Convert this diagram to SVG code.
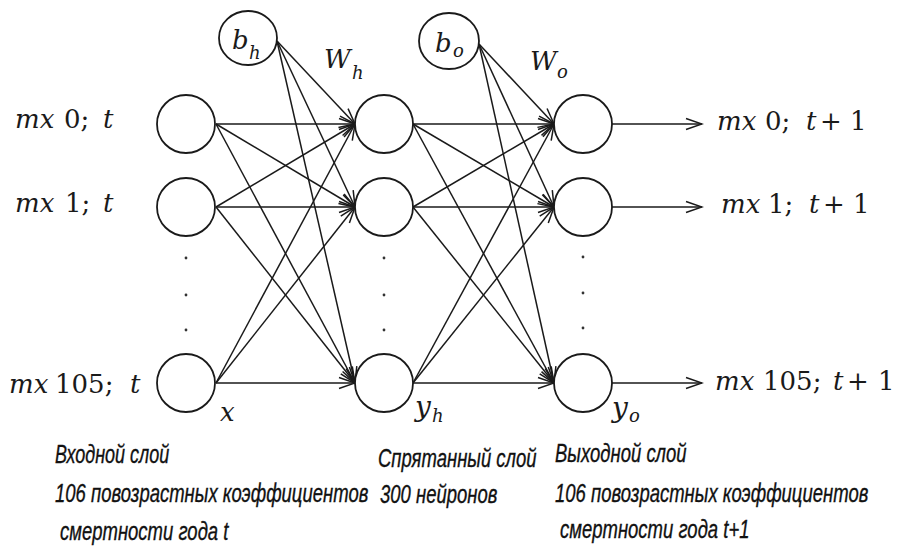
<svg xmlns="http://www.w3.org/2000/svg" width="897" height="551" viewBox="0 0 897 551">
<defs>
<marker id="arr" markerUnits="userSpaceOnUse" markerWidth="20" markerHeight="14" refX="18" refY="7" orient="auto">
<path d="M2,1.5 L18,7 L2,12.5" fill="none" stroke="#1a1a1a" stroke-width="1.5"/>
</marker>
</defs>
<style>
.node{fill:#fff;stroke:#1a1a1a;stroke-width:1.8}
.edge{stroke:#1a1a1a;stroke-width:1.5;fill:none}
.m{font-family:"DejaVu Serif","Liberation Serif",serif;font-size:26px;fill:#1a1a1a}
.i{font-style:italic}
.sub{font-family:"DejaVu Serif","Liberation Serif",serif;font-style:italic;font-size:18px;fill:#1a1a1a}
.cap{font-family:"Liberation Sans",sans-serif;font-style:italic;font-size:25px;fill:#111;stroke:#111;stroke-width:0.35}
.dot{fill:#333}
</style>
<rect width="897" height="551" fill="#fff"/>
<g id="connectors">
<line class="edge" x1="216" y1="124" x2="355" y2="124" marker-end="url(#arr)"/>
<line class="edge" x1="216" y1="124" x2="355" y2="207" marker-end="url(#arr)"/>
<line class="edge" x1="216" y1="124" x2="355" y2="383" marker-end="url(#arr)"/>
<line class="edge" x1="216" y1="207" x2="355" y2="124" marker-end="url(#arr)"/>
<line class="edge" x1="216" y1="207" x2="355" y2="207" marker-end="url(#arr)"/>
<line class="edge" x1="216" y1="207" x2="355" y2="383" marker-end="url(#arr)"/>
<line class="edge" x1="216" y1="383" x2="355" y2="124" marker-end="url(#arr)"/>
<line class="edge" x1="216" y1="383" x2="355" y2="207" marker-end="url(#arr)"/>
<line class="edge" x1="216" y1="383" x2="355" y2="383" marker-end="url(#arr)"/>
<line class="edge" x1="277" y1="41" x2="355" y2="124" marker-end="url(#arr)"/>
<line class="edge" x1="277" y1="41" x2="355" y2="207" marker-end="url(#arr)"/>
<line class="edge" x1="277" y1="41" x2="355" y2="383" marker-end="url(#arr)"/>
<line class="edge" x1="413" y1="124" x2="554" y2="124" marker-end="url(#arr)"/>
<line class="edge" x1="413" y1="124" x2="554" y2="207" marker-end="url(#arr)"/>
<line class="edge" x1="413" y1="124" x2="554" y2="383" marker-end="url(#arr)"/>
<line class="edge" x1="413" y1="207" x2="554" y2="124" marker-end="url(#arr)"/>
<line class="edge" x1="413" y1="207" x2="554" y2="207" marker-end="url(#arr)"/>
<line class="edge" x1="413" y1="207" x2="554" y2="383" marker-end="url(#arr)"/>
<line class="edge" x1="413" y1="383" x2="554" y2="124" marker-end="url(#arr)"/>
<line class="edge" x1="413" y1="383" x2="554" y2="207" marker-end="url(#arr)"/>
<line class="edge" x1="413" y1="383" x2="554" y2="383" marker-end="url(#arr)"/>
<line class="edge" x1="479" y1="44" x2="554" y2="124" marker-end="url(#arr)"/>
<line class="edge" x1="479" y1="44" x2="554" y2="207" marker-end="url(#arr)"/>
<line class="edge" x1="479" y1="44" x2="554" y2="383" marker-end="url(#arr)"/>
<line class="edge" x1="612" y1="124" x2="702" y2="124" marker-end="url(#arr)"/>
<line class="edge" x1="612" y1="207" x2="702" y2="207" marker-end="url(#arr)"/>
<line class="edge" x1="612" y1="383" x2="702" y2="383" marker-end="url(#arr)"/>
</g>
<g id="bias-h"><ellipse class="node" cx="248" cy="38" rx="29" ry="27"/>
<text class="m i" x="232" y="49">b</text><text class="sub" x="249" y="59">h</text></g>
<g id="bias-o"><ellipse class="node" cx="449" cy="41" rx="30" ry="28"/>
<text class="m i" x="435" y="52">b</text><text class="sub" x="453" y="57">o</text></g>
<g id="in0"><circle class="node" cx="186" cy="124" r="29"/></g>
<g id="in1"><circle class="node" cx="186" cy="207" r="29"/></g>
<g id="in105"><circle class="node" cx="186" cy="383" r="29"/></g>
<g id="hid0"><circle class="node" cx="384" cy="124" r="29"/></g>
<g id="hid1"><circle class="node" cx="384" cy="207" r="29"/></g>
<g id="hid299"><circle class="node" cx="384" cy="383" r="29"/></g>
<g id="out0"><circle class="node" cx="583" cy="124" r="29"/></g>
<g id="out1"><circle class="node" cx="583" cy="207" r="29"/></g>
<g id="out105"><circle class="node" cx="583" cy="383" r="29"/></g>
<g id="dots">
<circle class="dot" cx="186" cy="258" r="1.4"/><circle class="dot" cx="186" cy="295" r="1.4"/><circle class="dot" cx="186" cy="330" r="1.4"/>
<circle class="dot" cx="384" cy="258" r="1.4"/><circle class="dot" cx="384" cy="295" r="1.4"/><circle class="dot" cx="384" cy="330" r="1.4"/>
<circle class="dot" cx="583" cy="257" r="1.4"/><circle class="dot" cx="583" cy="293" r="1.4"/><circle class="dot" cx="583" cy="328" r="1.4"/>
</g>
<g id="labels">
<text class="m" y="128"><tspan class="i" x="15">mx</tspan><tspan x="64">0;</tspan><tspan class="i" x="103">t</tspan></text>
<text class="m" y="212"><tspan class="i" x="15">mx</tspan><tspan x="65">1;</tspan><tspan class="i" x="103">t</tspan></text>
<text class="m" y="393"><tspan class="i" x="9">mx</tspan><tspan x="55">105;</tspan><tspan class="i" x="130">t</tspan></text>
<text class="m" y="130"><tspan class="i" x="717">mx</tspan><tspan x="765">0;</tspan><tspan class="i" x="806">t</tspan><tspan x="820">+</tspan><tspan x="850">1</tspan></text>
<text class="m" y="213"><tspan class="i" x="721">mx</tspan><tspan x="768">1;</tspan><tspan class="i" x="809">t</tspan><tspan x="823">+</tspan><tspan x="853">1</tspan></text>
<text class="m" y="390"><tspan class="i" x="715">mx</tspan><tspan x="763">105;</tspan><tspan class="i" x="833">t</tspan><tspan x="847">+</tspan><tspan x="878">1</tspan></text>
<text class="m i" x="324" y="68">W</text><text class="sub" x="352" y="79">h</text>
<text class="m i" x="530" y="70">W</text><text class="sub" x="557" y="78">o</text>
<text class="m i" x="220" y="421">x</text>
<text class="m i" x="415" y="416" style="font-size:28px">y</text><text class="sub" x="432" y="422">h</text>
<text class="m i" x="612" y="417" style="font-size:28px">y</text><text class="sub" x="629" y="422">o</text>
</g>
<g id="captions">
<text class="cap" transform="translate(55,463) scale(0.72,1)">Входной слой</text>
<text class="cap" transform="translate(55,502) scale(0.74,1)">106 повозрастных коэффициентов</text>
<text class="cap" transform="translate(60,540) scale(0.74,1)">смертности года t</text>
<text class="cap" transform="translate(378,467) scale(0.74,1)">Спрятанный слой</text>
<text class="cap" transform="translate(380,503) scale(0.74,1)">300 нейронов</text>
<text class="cap" transform="translate(555,462) scale(0.74,1)">Выходной слой</text>
<text class="cap" transform="translate(555,502) scale(0.74,1)">106 повозрастных коэффициентов</text>
<text class="cap" transform="translate(560,538) scale(0.74,1)">смертности года t+1</text>
</g>
</svg>
